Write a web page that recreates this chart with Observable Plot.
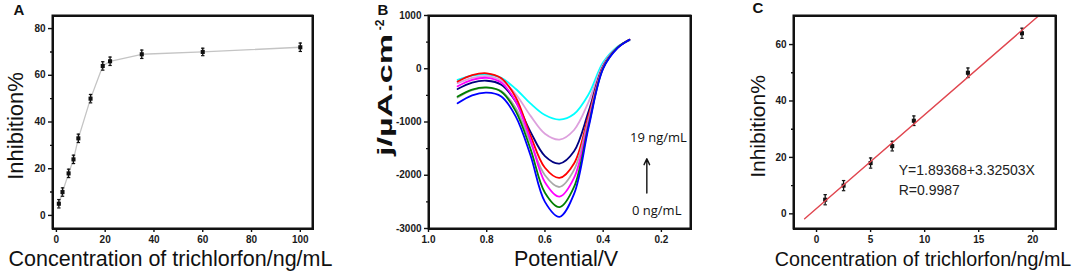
<!DOCTYPE html>
<html>
<head>
<meta charset="utf-8">
<script src="https://cdn.jsdelivr.net/npm/d3@7"></script>
<script src="https://cdn.jsdelivr.net/npm/@observablehq/plot@0.6"></script>
<style>
  html, body { margin: 0; padding: 0; background: #fff; }
  #wrap { position: relative; width: 1084px; height: 279px; overflow: hidden; background: #fff; }
  .panel { position: absolute; top: 0; }
  .panel svg { position: absolute; left: 0; top: 0; background: transparent; }
  .box { position: absolute; box-sizing: border-box; border: 2px solid #111; pointer-events: none; }
</style>
</head>
<body>
<div id="wrap">
  <div class="panel" id="pa" style="left:0px"></div>
  <div class="panel" id="pb" style="left:370px"></div>
  <div class="panel" id="pc" style="left:730px"></div>
</div>
<script>
// ---------- Panel A data ----------
const concA = [1, 2.5, 5, 7, 9, 14, 19, 22, 35, 60, 100];
const inhibA = [5, 10, 18, 24, 33, 50, 64, 66, 69, 70, 72];
const errA = [1.8, 1.8, 1.8, 1.8, 1.8, 1.8, 1.8, 1.8, 1.8, 1.6, 1.8];
const ticksAx = [0, 20, 40, 60, 80, 100];
const minorAx = [10, 30, 50, 70, 90];
const ticksAy = [0, 20, 40, 60, 80];
const minorAy = [10, 30, 50, 70];

// ---------- Panel B data ----------
const potentials = [0.9, 0.85, 0.8, 0.75, 0.7, 0.65, 0.6, 0.55, 0.5, 0.45, 0.4, 0.35, 0.31];
const seriesNames = ["cyan", "plum", "navy", "red", "darkgray", "magenta", "green", "blue"];
const seriesColors = ["#3fe3e0", "#c486d6", "#33336e", "#e8333a", "#4a4a56", "#e040e0", "#22e02a", "#3a3ad8"];
const curveCyan     = [-210, -130, -105, -170, -380, -650, -870, -955, -850, -480, 120, 420, 530];
const curvePlum     = [-270, -170, -140, -220, -480, -880, -1220, -1330, -1150, -620, 80, 410, 530];
const curveNavy     = [-380, -260, -225, -300, -620, -1180, -1640, -1780, -1550, -800, 50, 400, 540];
const curveRed      = [-240, -120, -85, -180, -540, -1250, -1860, -2050, -1780, -880, 40, 400, 545];
const curveDarkgray = [-540, -400, -360, -420, -740, -1380, -2000, -2220, -1900, -940, 30, 400, 545];
const curveMagenta  = [-330, -210, -170, -260, -620, -1330, -2130, -2400, -2050, -1000, 20, 400, 545];
const curveGreen    = [-520, -390, -350, -430, -800, -1500, -2330, -2600, -2220, -1060, 10, 400, 545];
const curveBlue     = [-650, -500, -450, -520, -900, -1620, -2500, -2780, -2350, -1100, 0, 390, 545];
const curvesB = [curveCyan, curvePlum, curveNavy, curveRed, curveDarkgray, curveMagenta, curveGreen, curveBlue];
const ticksBx = [1.0, 0.8, 0.6, 0.4, 0.2];
const minorBx = [0.9, 0.7, 0.5, 0.3];
const ticksBy = [1000, 0, -1000, -2000, -3000];
const minorBy = [500, -500, -1500, -2500];
const annotB = [
  {x: 0.308, y: -1296, text: "19 ng/mL"},
  {x: 0.301, y: -2675, text: "0 ng/mL"}
];
const arrowB = [{x1: 0.25, y1: -2335, x2: 0.25, y2: -1690}];

// ---------- Panel C data ----------
const concC = [0.8, 2.5, 5, 7, 9, 14, 19];
const inhibC = [5, 10, 18, 24, 33, 50, 64];
const errC = [1.8, 1.8, 1.8, 1.7, 1.7, 1.7, 1.8];
const fitIntercept = 1.89368;
const fitSlope = 3.32503;
const fitX = [-1.1, 21];
const ticksCx = [0, 5, 10, 15, 20];
const minorCx = [2.5, 7.5, 12.5, 17.5];
const ticksCy = [0, 20, 40, 60];
const minorCy = [10, 30, 50];
const annotC = [
  {x: 7.6, y: 15.3, text: "Y=1.89368+3.32503X"},
  {x: 7.6, y: 8.2, text: "R=0.9987"}
];

// ---------- helpers ----------
const FONT = "'Liberation Sans', Arial, Helvetica, sans-serif";
const capSymbol = {
  draw(ctx, size) {
    const w = Math.sqrt(size / Math.PI);
    ctx.moveTo(-w, 0); ctx.lineTo(w, 0);
  }
};
const common = {stroke: "#111", strokeWidth: 1.4, fill: "#1a1a1a", fontWeight: "bold", fontSize: 10, label: null};
function majorAxes(tx, ty, fmtX, fmtY) {
  return [
    Plot.axisX({...common, ticks: tx, tickSize: 4, tickPadding: 3, tickFormat: fmtX}),
    Plot.axisY({...common, ticks: ty, tickSize: 4, tickPadding: 3, tickFormat: fmtY}),
    Plot.frame({stroke: "#111", strokeWidth: 2})
  ];
}
function minorAxes(mx, my) {
  return [
    Plot.axisX({...common, ticks: mx, tickSize: 2, tickFormat: () => ""}),
    Plot.axisY({...common, ticks: my, tickSize: 2, tickFormat: () => ""})
  ];
}
function addText(svg, {x, y, text, size, bold, rotate, length}) {
  const t = d3.select(svg).append("text")
    .attr("transform", `translate(${x},${y})` + (rotate ? " rotate(-90)" : ""))
    .attr("text-anchor", "middle")
    .attr("font-family", FONT)
    .attr("font-size", size)
    .attr("font-weight", bold ? "bold" : "normal")
    .attr("fill", "#111")
    .text(text);
  if (length) t.attr("textLength", length).attr("lengthAdjust", "spacingAndGlyphs");
  return t;
}
// Build a panel as two stacked Plot SVGs: data layer below, axes + frame on top.
function panel(id, layout, scales, dataMarks, axisMarks) {
  const base = {...layout, style: {fontFamily: FONT, background: "transparent"}, ...scales};
  const dataPlot = Plot.plot({...base, x: {...scales.x, axis: null}, y: {...scales.y, axis: null}, marks: dataMarks});
  const axisPlot = Plot.plot({...base, marks: axisMarks});
  const el = document.getElementById(id);
  el.style.width = layout.width + "px";
  el.style.height = layout.height + "px";
  el.appendChild(dataPlot);
  el.appendChild(axisPlot);
  // plot-area border (matches the frame position of the Plot layout)
  const box = document.createElement("div");
  box.className = "box";
  box.style.left = (layout.marginLeft - 0.5) + "px";
  box.style.top = (layout.marginTop - 0.5) + "px";
  box.style.width = (layout.width - layout.marginLeft - layout.marginRight + 2) + "px";
  box.style.height = (layout.height - layout.marginTop - layout.marginBottom + 2) + "px";
  el.appendChild(box);
  return axisPlot;
}

// ---------- Panel A ----------
const dataA = concA.map((c, i) => ({x: c, y: inhibA[i], e: errA[i]}));
const plotA = panel("pa",
  {width: 340, height: 279, marginLeft: 52, marginRight: 28, marginTop: 15, marginBottom: 51},
  {x: {domain: [-1.6, 105]}, y: {domain: [-5.6, 85.6]}},
  [
    ...minorAxes(minorAx, minorAy),
    Plot.line(dataA, {x: "x", y: "y", stroke: "#c4c4c4", strokeWidth: 1.3}),
    Plot.ruleX(dataA, {x: "x", y1: d => d.y - d.e, y2: d => d.y + d.e, stroke: "#111", strokeWidth: 1.3}),
    Plot.dot(dataA, {x: "x", y: d => d.y - d.e, symbol: capSymbol, r: 1.7, stroke: "#111", strokeWidth: 1.2}),
    Plot.dot(dataA, {x: "x", y: d => d.y + d.e, symbol: capSymbol, r: 1.7, stroke: "#111", strokeWidth: 1.2}),
    Plot.dot(dataA, {x: "x", y: "y", symbol: "square", r: 2.3, fill: "#111"})
  ],
  majorAxes(ticksAx, ticksAy, d => String(d), d => String(d))
);
addText(plotA, {x: 19, y: 15, text: "A", size: 15, bold: true});
addText(plotA, {x: 23, y: 126, text: "Inhibition%", size: 22, rotate: true});
addText(plotA, {x: 170.5, y: 266, text: "Concentration of trichlorfon/ng/mL", size: 21.5});

// ---------- Panel B ----------
const dataB = [];
curvesB.forEach((vals, s) => vals.forEach((v, i) => dataB.push({series: seriesNames[s], x: potentials[i], y: v})));
const plotB = panel("pb",
  {width: 330, height: 279, marginLeft: 58, marginRight: 10, marginTop: 15, marginBottom: 51},
  {x: {domain: [1.0, 0.1]}, y: {domain: [-3000, 1000]}, color: {domain: seriesNames, range: seriesColors}},
  [
    ...minorAxes(minorBx, minorBy),
    Plot.line(dataB, {x: "x", y: "y", z: "series", stroke: "series", strokeWidth: 1.8, curve: "catmull-rom", clip: true}),
    Plot.text(annotB, {x: "x", y: "y", text: "text", textAnchor: "start", fontSize: 13, fill: "#111",
      fontFamily: "'Open Sans', 'DejaVu Sans', sans-serif"}),
    Plot.arrow(arrowB, {x1: "x1", y1: "y1", x2: "x2", y2: "y2", stroke: "#111", strokeWidth: 1.4, headLength: 7, headAngle: 50})
  ],
  majorAxes(ticksBx, ticksBy, d3.format(".1f"), d => String(d))
);
addText(plotB, {x: 13, y: 15, text: "B", size: 15, bold: true});
addText(plotB, {x: 22, y: 95, text: "j/\u00b5A.cm", size: 21, bold: true, rotate: true, length: 122});
addText(plotB, {x: 14, y: 25, text: "-2", size: 12, bold: true, rotate: true});
addText(plotB, {x: 196, y: 266, text: "Potential/V", size: 21.5});

// ---------- Panel C ----------
const dataC = concC.map((c, i) => ({x: c, y: inhibC[i], e: errC[i]}));
const fitData = fitX.map(x => ({x, y: fitIntercept + fitSlope * x}));
const plotC = panel("pc",
  {width: 354, height: 279, marginLeft: 63, marginRight: 29, marginTop: 15, marginBottom: 51},
  {x: {domain: [-2.13, 22.1]}, y: {domain: [-5.2, 70.3]}},
  [
    ...minorAxes(minorCx, minorCy),
    Plot.ruleX(dataC, {x: "x", y1: d => d.y - d.e, y2: d => d.y + d.e, stroke: "#111", strokeWidth: 1.3}),
    Plot.dot(dataC, {x: "x", y: d => d.y - d.e, symbol: capSymbol, r: 1.7, stroke: "#111", strokeWidth: 1.2}),
    Plot.dot(dataC, {x: "x", y: d => d.y + d.e, symbol: capSymbol, r: 1.7, stroke: "#111", strokeWidth: 1.2}),
    Plot.dot(dataC, {x: "x", y: "y", symbol: "square", r: 2.3, fill: "#111"}),
    Plot.line(fitData, {x: "x", y: "y", stroke: "#e0464f", strokeWidth: 1.4, clip: true}),
    Plot.text(annotC, {x: "x", y: "y", text: "text", textAnchor: "start", fontSize: 14, fill: "#222"})
  ],
  majorAxes(ticksCx, ticksCy, d => String(d), d => String(d))
);
addText(plotC, {x: 28, y: 13, text: "C", size: 15, bold: true});
addText(plotC, {x: 35, y: 126.5, text: "Inhibition%", size: 21, rotate: true});
addText(plotC, {x: 193, y: 266, text: "Concentration of trichlorfon/ng/mL", size: 19.7});
</script>
</body>
</html>
